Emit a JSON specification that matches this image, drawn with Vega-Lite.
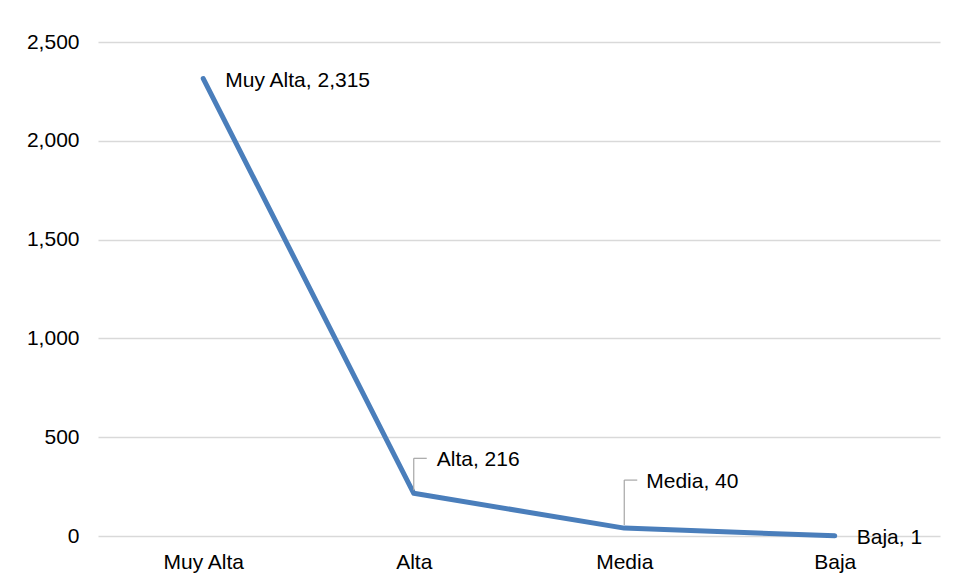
{
  "$schema": "https://vega.github.io/schema/vega-lite/v6.json",
  "width": 842,
  "height": 494,
  "autosize": {"type": "none"},
  "padding": {"left": 98, "top": 42, "right": 16, "bottom": 45},
  "background": "white",
  "config": {
    "view": {"stroke": null},
    "font": "Liberation Sans",
    "axis": {"labelFont": "Liberation Sans", "labelFontSize": 21, "labelColor": "#000000"}
  },
  "data": {
    "values": [
      {"cat": "Muy Alta", "value": 2315, "label": "Muy Alta, 2,315"},
      {"cat": "Alta", "value": 216, "label": "Alta, 216"},
      {"cat": "Media", "value": 40, "label": "Media, 40"},
      {"cat": "Baja", "value": 1, "label": "Baja, 1"}
    ]
  },
  "encoding": {
    "x": {
      "field": "cat", "type": "nominal", "sort": null,
      "scale": {"type": "point", "padding": 0.5},
      "axis": {"title": null, "ticks": false, "domain": false, "labelPadding": 15, "labelAngle": 0, "grid": false}
    },
    "y": {
      "field": "value", "type": "quantitative",
      "scale": {"domain": [0, 2500], "nice": false},
      "axis": {"title": null, "values": [0, 500, 1000, 1500, 2000, 2500], "format": ",.0f", "ticks": false, "domain": false, "labelPadding": 19, "gridColor": "#d9d9d9", "gridWidth": 1.3}
    }
  },
  "layer": [
    {"mark": {"type": "line", "color": "#4A7EBB", "strokeWidth": 5, "strokeCap": "round", "strokeJoin": "round"}},
    {
      "transform": [{"filter": "datum.cat === 'Alta'"}],
      "mark": {"type": "rule", "color": "#a6a6a6", "strokeWidth": 1.2, "yOffset": -3, "y2Offset": -35},
      "encoding": {"y2": {"field": "value"}}
    },
    {
      "transform": [{"filter": "datum.cat === 'Alta'"}],
      "mark": {"type": "rule", "color": "#a6a6a6", "strokeWidth": 1.2, "yOffset": -35, "x2Offset": 13},
      "encoding": {"x2": {"field": "cat"}}
    },
    {
      "transform": [{"filter": "datum.cat === 'Media'"}],
      "mark": {"type": "rule", "color": "#a6a6a6", "strokeWidth": 1.2, "yOffset": -3, "y2Offset": -48},
      "encoding": {"y2": {"field": "value"}}
    },
    {
      "transform": [{"filter": "datum.cat === 'Media'"}],
      "mark": {"type": "rule", "color": "#a6a6a6", "strokeWidth": 1.2, "yOffset": -48, "x2Offset": 13},
      "encoding": {"x2": {"field": "cat"}}
    },
    {
      "transform": [{"filter": "datum.cat === 'Muy Alta' || datum.cat === 'Baja'"}],
      "mark": {"type": "text", "align": "left", "baseline": "middle", "dx": 22, "dy": 2, "fontSize": 21, "font": "Liberation Sans", "color": "#000000"},
      "encoding": {"text": {"field": "label"}}
    },
    {
      "transform": [{"filter": "datum.cat === 'Alta'"}],
      "mark": {"type": "text", "align": "left", "baseline": "middle", "dx": 23, "dy": -33, "fontSize": 21, "font": "Liberation Sans", "color": "#000000"},
      "encoding": {"text": {"field": "label"}}
    },
    {
      "transform": [{"filter": "datum.cat === 'Media'"}],
      "mark": {"type": "text", "align": "left", "baseline": "middle", "dx": 22, "dy": -46, "fontSize": 21, "font": "Liberation Sans", "color": "#000000"},
      "encoding": {"text": {"field": "label"}}
    }
  ]
}
